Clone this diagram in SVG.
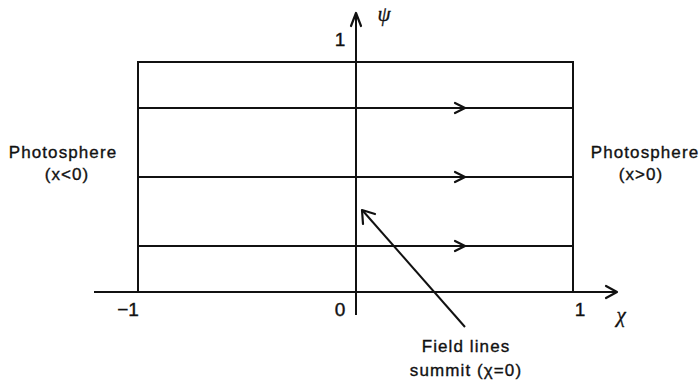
<svg xmlns="http://www.w3.org/2000/svg" width="700" height="385" viewBox="0 0 700 385">
<style>
.ln{stroke:#111;stroke-width:2;fill:none}
.ah{stroke:#111;stroke-width:2.2;fill:none;stroke-linecap:round;stroke-linejoin:round}
.t{font-family:"Liberation Sans",Arial,sans-serif;font-size:17px;letter-spacing:1.1px;fill:#111;stroke:#111;stroke-width:0.35}
.n{font-family:"Liberation Sans",Arial,sans-serif;font-size:19px;fill:#111;stroke:#111;stroke-width:0.4}
.g{font-family:"Liberation Serif","DejaVu Serif",serif;font-style:italic;font-size:21px;fill:#111;stroke:#111;stroke-width:0.3}
</style>
<rect width="700" height="385" fill="#fff"/>
<g id="connectors">
<line class="ln" x1="94" y1="292" x2="616" y2="292"/>
<polyline class="ah" points="606,286 617,292 606,298"/>
<line class="ln" x1="356" y1="14" x2="356" y2="315"/>
<polyline class="ah" points="351,26 356,13 361,26"/>
<line class="ln" x1="138" y1="108" x2="573" y2="108"/>
<polyline class="ah" points="455,103 465,108 455,113"/>
<line class="ln" x1="138" y1="177" x2="573" y2="177"/>
<polyline class="ah" points="455,172 465,177 455,182"/>
<line class="ln" x1="138" y1="246" x2="573" y2="246"/>
<polyline class="ah" points="455,241 465,246 455,251"/>
<line class="ln" x1="465" y1="327" x2="363" y2="211"/>
<polyline class="ah" points="363,224 362,210 375,214"/>
</g>
<g id="domain">
<rect class="ln" x="138" y="62" width="435" height="230"/>
</g>
<g id="labels">
<text class="n" x="340" y="46" text-anchor="middle">1</text>
<text class="g" x="384" y="21" text-anchor="middle">ψ</text>
<text class="n" x="128" y="316" text-anchor="middle">−1</text>
<text class="n" x="340" y="316" text-anchor="middle">0</text>
<text class="n" x="580" y="316" text-anchor="middle">1</text>
<text class="g" x="621" y="322" text-anchor="middle">χ</text>
</g>
<g id="photosphere-left">
<text class="t" x="63" y="158" text-anchor="middle">Photosphere</text>
<text class="t" x="67" y="180" text-anchor="middle">(x&lt;0)</text>
</g>
<g id="photosphere-right">
<text class="t" x="645" y="158" text-anchor="middle">Photosphere</text>
<text class="t" x="641" y="180" text-anchor="middle">(x&gt;0)</text>
</g>
<g id="summit-label">
<text class="t" x="466" y="352" text-anchor="middle">Field lines</text>
<text class="t" x="466" y="376" text-anchor="middle">summit (χ=0)</text>
</g>
</svg>
